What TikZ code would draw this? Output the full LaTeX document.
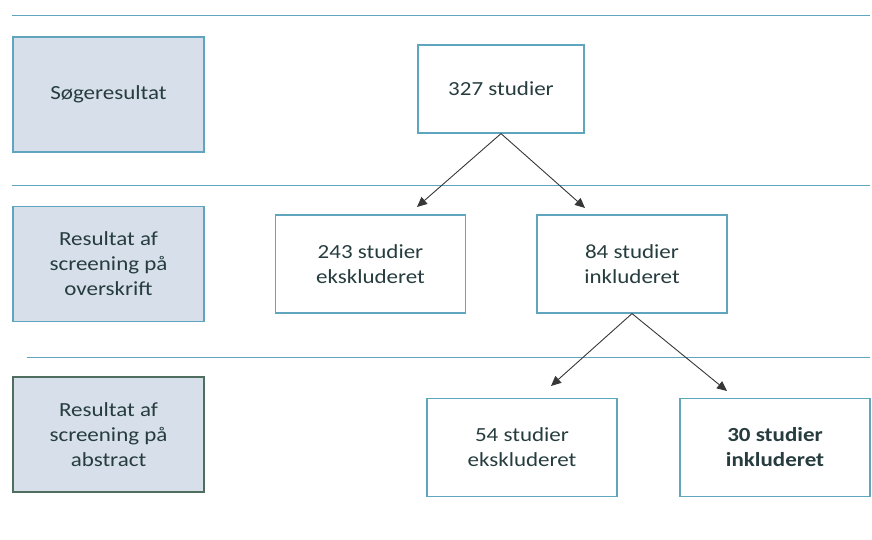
\documentclass[tikz,border=0pt]{standalone}
\usepackage{fontspec}
\setmainfont{Carlito}[FakeStretch=1.15]
\usepackage{tikz}
\usetikzlibrary{arrows.meta}

\definecolor{txtcol}{RGB}{38,60,62}
\definecolor{boxline}{RGB}{95,165,190}
\definecolor{stepfill}{RGB}{214,223,234}
\definecolor{darkline}{RGB}{80,110,95}
\definecolor{arrcol}{RGB}{55,55,55}

\tikzset{
  trin/.style={draw=boxline, line width=1.2pt, fill=stepfill, text=txtcol,
    minimum width=191pt, minimum height=115pt, align=center, inner sep=0pt},
  resbox/.style={draw=boxline, line width=1.2pt, fill=white, text=txtcol,
    minimum width=190pt, minimum height=98pt, align=center, inner sep=0pt},
  skille/.style={draw=boxline, line width=0.9pt},
  pil/.style={draw=arrcol, line width=0.9pt, -{Triangle[length=10pt,width=9pt]}}
}

\begin{document}
\begin{tikzpicture}[x=1pt,y=-1pt,font=\fontsize{20}{25}\selectfont]
    \useasboundingbox (0,0) rectangle (872,540);

    % Vandrette skillelinjer
    \draw[skille] (12,15) -- (870,15);
    \draw[skille] (12,185) -- (870,185);
    \draw[skille] (27,357) -- (870,357);

    % Trin i venstre kolonne
    \node[trin] (trin1) at (108.5,94.5) {Søgeresultat};
    \node[trin] (trin2) at (108.5,264) {Resultat af\\screening på\\overskrift};
    \node[trin, draw=darkline] (trin3) at (108.5,434.5) {Resultat af\\screening på\\abstract};

    % Resultatbokse
    \node[resbox, minimum width=166pt, minimum height=88pt] (n327) at (501,89) {327 studier};
    \node[resbox] (n243) at (370.5,264) {243 studier\\ekskluderet};
    \node[resbox] (n84) at (632,264) {84 studier\\inkluderet};
    \node[resbox] (n54) at (522,447.5) {54 studier\\ekskluderet};
    \node[resbox, font=\fontsize{20}{25}\selectfont\bfseries] (n30) at (775,447.5) {30 studier\\inkluderet};

    % Pilespidser
    \coordinate (p243) at (417,207);
    \coordinate (p84) at (585,208);
    \coordinate (p54) at (551,386);
    \coordinate (p30) at (727,391);

    % Pile
    \draw[pil] (n327.south) -- (p243);
    \draw[pil] (n327.south) -- (p84);
    \draw[pil] (n84.south) -- (p54);
    \draw[pil] (n84.south) -- (p30);
\end{tikzpicture}
\end{document}
